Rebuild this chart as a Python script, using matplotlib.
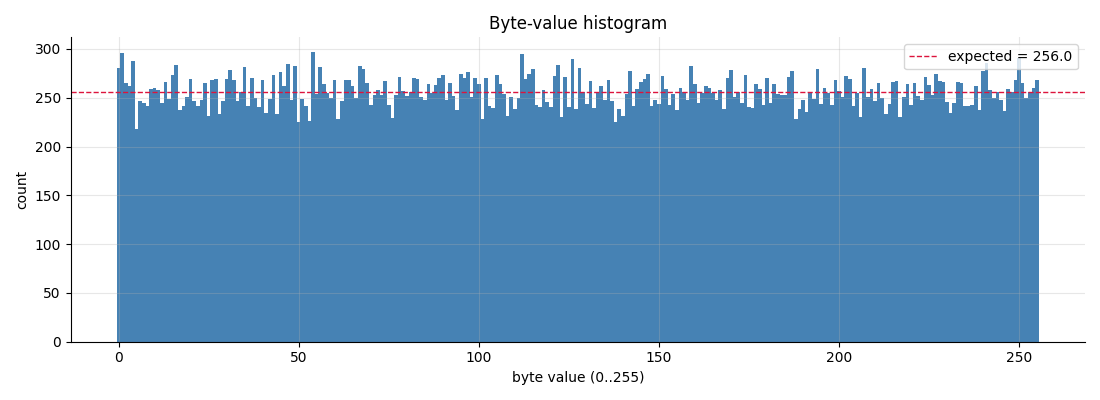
import matplotlib
matplotlib.use('Agg')
import matplotlib.pyplot as plt
import numpy as np

# counts per byte value (16 per row)
counts = [
    280, 296, 265, 262, 288, 218, 247, 245, 242, 259, 260, 258, 245, 266, 249, 273,
    284, 237, 241, 251, 269, 247, 241, 248, 265, 231, 268, 269, 233, 247, 269, 278,
    268, 247, 256, 281, 242, 270, 250, 240, 268, 234, 249, 273, 233, 276, 262, 285,
    248, 282, 225, 249, 242, 226, 297, 254, 281, 264, 255, 250, 268, 228, 247, 268,
    268, 262, 250, 282, 279, 265, 243, 253, 258, 253, 267, 243, 229, 253, 271, 257,
    252, 256, 270, 269, 251, 248, 264, 255, 263, 270, 273, 248, 265, 252, 237, 274,
    270, 276, 251, 270, 264, 228, 270, 242, 239, 273, 264, 254, 231, 251, 238, 250,
    295, 269, 274, 279, 243, 240, 258, 246, 240, 272, 284, 230, 271, 240, 290, 238,
    280, 256, 244, 267, 239, 256, 262, 248, 268, 247, 225, 238, 231, 254, 277, 242,
    259, 266, 269, 274, 241, 248, 244, 272, 259, 243, 254, 237, 260, 256, 248, 282,
    264, 245, 255, 262, 260, 255, 248, 258, 238, 270, 278, 251, 256, 245, 273, 240,
    239, 264, 259, 243, 270, 245, 264, 254, 253, 253, 271, 277, 228, 238, 248, 235,
    256, 249, 279, 244, 260, 255, 243, 268, 257, 251, 272, 269, 241, 255, 230, 280,
    251, 259, 247, 265, 250, 233, 244, 266, 267, 230, 251, 264, 243, 265, 252, 248,
    271, 263, 253, 274, 267, 266, 246, 234, 245, 266, 265, 242, 241, 243, 262, 237,
    277, 286, 258, 250, 256, 248, 236, 259, 256, 268, 291, 265, 250, 256, 260, 268,
]
byte_values = np.arange(256)
expected = 256.0

fig, ax = plt.subplots(figsize=(11, 4), dpi=100)
ax.bar(byte_values, counts, width=1.0, color='steelblue')
ax.axhline(expected, color='crimson', linestyle='--', linewidth=1,
           label=f'expected = {expected:.1f}')

ax.set_title('Byte-value histogram')
ax.set_xlabel('byte value (0..255)')
ax.set_ylabel('count')
ax.grid(True, alpha=0.3)
ax.spines['top'].set_visible(False)
ax.spines['right'].set_visible(False)
ax.legend(loc='upper right')

fig.tight_layout()
fig.savefig('out.png')
